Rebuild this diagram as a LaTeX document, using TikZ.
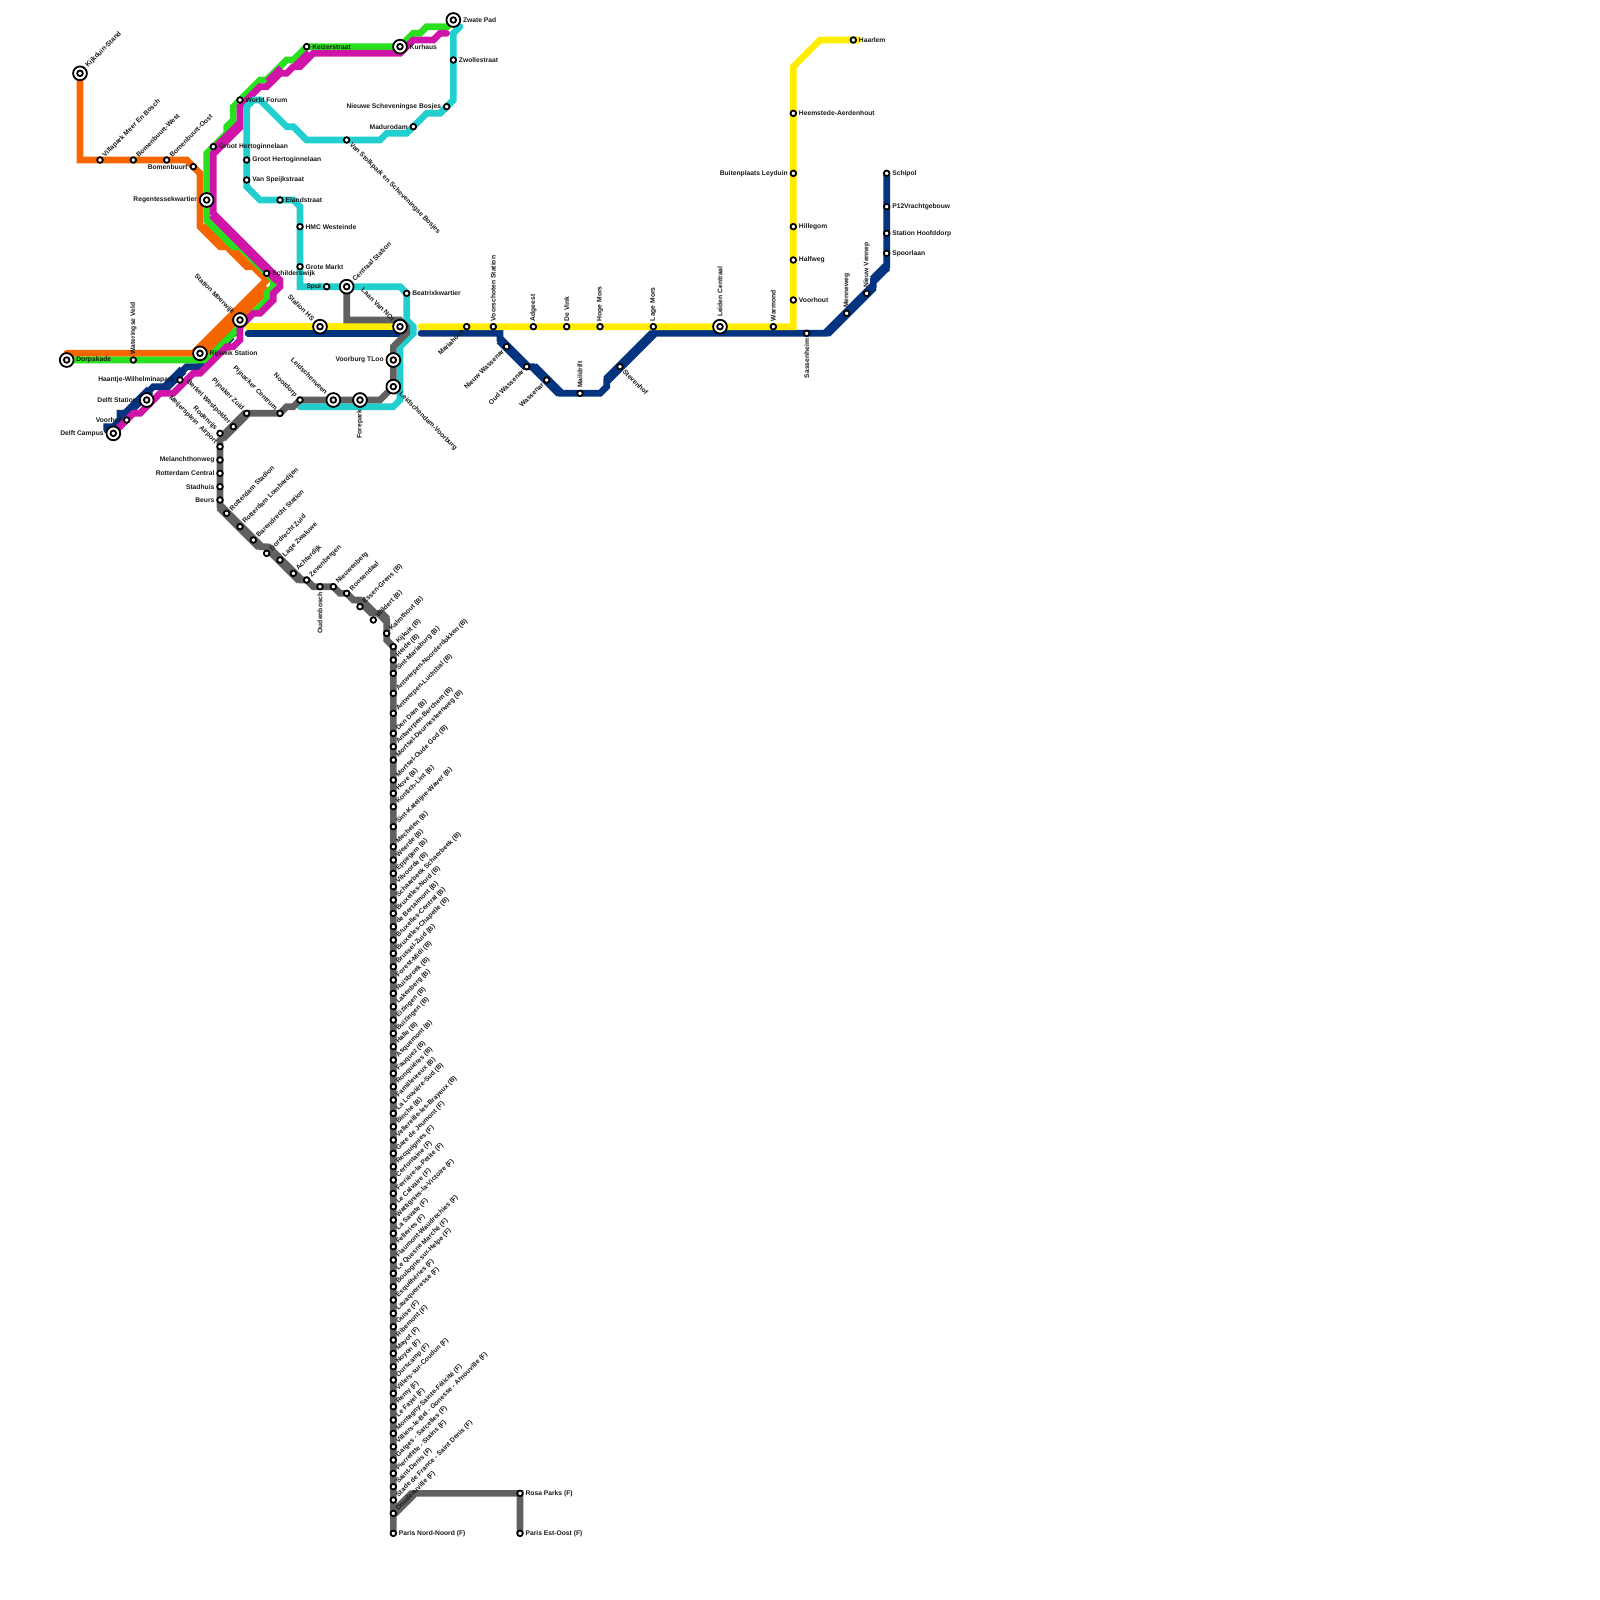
\documentclass[tikz,border=0pt]{standalone}
\usepackage{fontspec}
\setmainfont{Liberation Sans}
\definecolor{orangeL}{HTML}{F56600}
\definecolor{greenL}{HTML}{28E01E}
\definecolor{magentaL}{HTML}{D014A8}
\definecolor{tealL}{HTML}{22CFCF}
\definecolor{navyL}{HTML}{04337F}
\definecolor{yellowL}{HTML}{FFEC00}
\definecolor{greyL}{HTML}{606060}
\tikzset{
  metro/.style={line width=6.67pt,line join=miter,miter limit=3,line cap=round},
  dg/.style={line width=9.4pt,line cap=butt},
  st/.style={circle,draw=black,fill=white,line width=1.8pt,minimum size=5.6pt,inner sep=0pt},
  ist/.style={circle,draw=black,fill=white,line width=1.8pt,minimum size=13.8pt,inner sep=0pt},
  lab/.style={inner sep=0pt,font=\fontsize{6.72pt}{7pt}\selectfont\bfseries,text=black!90},
  lp/.style={lab,rotate=#1,anchor=west,xshift=5.4pt},
  ln/.style={lab,rotate=#1,anchor=east,xshift=-5.4pt},
  lP/.style={lab,rotate=#1,anchor=west,xshift=9.5pt},
  lN/.style={lab,rotate=#1,anchor=east,xshift=-9.5pt},
}
% name, x, y, label style, text
\newcommand{\stn}[5]{\node[st] (#1) at (#2,#3) {}; \node[#4] (#1-t) at (#1) {#5};}
\newcommand{\hub}[5]{\node[ist] (#1-o) at (#2,#3) {}; \node[st] (#1) at (#2,#3) {}; \node[#4] (#1-t) at (#1) {#5};}
\begin{document}
\begin{tikzpicture}[x=1pt,y=-1pt]
\useasboundingbox (0,0) rectangle (1600,1600);
% lines
\draw[metro,navyL] (106.67,430)--(106.67,426.67)--(113.33,426.67)--(120,420)--(120,413.33)--(126.67,413.33)--(153.33,386.67)--(166.67,386.67)--(186.67,366.67)--(200,366.67)--(233.33,333.33)--(235,333.33);
\draw[navyL,dg] (123,417)--(150,390) (163,390)--(183,370) (197,370)--(231,336);
\draw[metro,navyL] (248,333.33)--(405,333.33);
\draw[metro,navyL] (421,333.33)--(500,333.33)--(500,340)--(526.67,366.67)--(533.33,366.67)--(560,393.33)--(600,393.33)--(606.67,386.67)--(606.67,380)--(653.33,333.33)--(826.67,333.33)--(873.33,286.67)--(873.33,280)--(886.67,266.67)--(886.67,173.33);
\draw[navyL,dg] (500,340)--(526.67,366.67) (533.33,366.67)--(560,393.33) (606.67,380)--(653.33,333.33) (826.67,333.33)--(873.33,286.67) (873.33,280)--(886.67,266.67);
\draw[metro,yellowL] (248,326.67)--(405,326.67);
\draw[metro,yellowL] (421,326.67)--(793.33,326.67)--(793.33,66.67)--(820,40)--(858,40);
\draw[metro,orangeL] (80,73.33)--(80,160)--(186.67,160)--(200,173.33)--(200,226.67)--(220,246.67)--(226.67,246.67)--(246.67,266.67)--(253.33,266.67)--(266.67,280)--(193.33,353.33)--(66.67,353.33);
\draw[orangeL,line width=12pt,line cap=butt] (196.67,356.67)--(266.67,286.67);
\draw[orangeL,line width=9pt,line cap=butt] (202,226)--(222,246) (229,247)--(249,267);
\draw[metro,greenL] (448,26.67)--(426.67,26.67)--(420,33.33)--(413.33,33.33)--(400,46.67)--(306.67,46.67)--(293.33,60)--(286.67,60)--(266.67,80)--(260,80)--(233.33,106.67)--(233.33,120)--(226.67,126.67)--(226.67,133.33)--(206.67,153.33)--(206.67,220)--(233.33,246.67)--(240,246.67)--(273.33,280)--(273.33,286.67)--(266.67,293.33)--(266.67,300)--(206.67,360)--(66.67,360);
\draw[metro,magentaL] (446.67,33.33)--(440,33.33)--(433.33,40)--(413.33,40)--(400,53.33)--(313.33,53.33)--(300,66.67)--(293.33,66.67)--(286.67,73.33)--(280,73.33)--(266.67,86.67)--(260,86.67)--(240,106.67)--(240,126.67)--(213.33,153.33)--(213.33,213.33)--(280,280)--(280,286.67)--(273.33,293.33)--(273.33,300)--(260,313.33)--(253.33,313.33)--(240,326.67)--(240,340)--(233.33,346.67)--(226.67,346.67)--(200,373.33)--(193.33,373.33)--(173.33,393.33)--(160,393.33)--(140,413.33)--(133.33,413.33)--(113.33,433.33);
\draw[magentaL,line width=8.5pt,line cap=butt] (212,214.5)--(278.5,281);
\draw[magentaL,line width=10pt,line cap=butt] (240,125)--(213.33,151.67);
\draw[magentaL,dg] (310,53.33)--(296.67,66.67) (282,69)--(268.67,82.33);
\draw[metro,tealL] (460,26.67)--(453.33,33.33)--(453.33,100)--(440,113.33)--(426.67,113.33)--(406.67,133.33)--(386.67,133.33)--(380,140)--(306.67,140)--(293.33,126.67)--(286.67,126.67)--(260,100)--(253.33,100)--(246.67,106.67)--(246.67,186.67)--(260,200)--(293.33,200)--(300,206.67)--(300,286.67)--(400,286.67)--(406.67,293.33)--(406.67,320)--(413.33,326.67)--(413.33,333.33)--(400,346.67)--(400,400)--(393.33,406.67)--(300,406.67);
\draw[metro,greyL] (346.67,286.67)--(346.67,320)--(400,320)--(406.67,326.67)--(406.67,333.33)--(393.33,346.67)--(393.33,386.67)--(380,400)--(300,400)--(293.33,406.67)--(286.67,406.67)--(280,413.33)--(246.67,413.33)--(220,440)--(220,506.67)--(260,546.67)--(266.67,546.67)--(300,580)--(306.67,580)--(313.33,586.67)--(333.33,586.67)--(340,593.33)--(346.67,593.33)--(353.33,600)--(360,600)--(373.33,613.33)--(380,613.33)--(386.67,620)--(386.67,640)--(393.33,646.67)--(393.33,1533.33);
\draw[greyL,dg] (246.67,413.33)--(222,438) (220,506.67)--(260,546.67) (266.67,546.67)--(300,580) (360,600)--(373.33,613.33) (380,613.33)--(386.67,620) (393.33,1513.33)--(413.33,1493.33);
\draw[metro,greyL] (393.33,1513.33)--(413.33,1493.33)--(520,1493.33)--(520,1533.33);
% orange / green
\hub{kijk}{80}{73.33}{lP=45}{Kijkduin-Stand}
\stn{villa}{100}{160}{lp=45}{Villapark Meer En Bosch}
\stn{bbw}{133.33}{160}{lp=45}{Bomenbuurt-West}
\stn{bbo}{166.67}{160}{lp=45}{Bomenbuurt-Oost}
\stn{bb}{193.33}{166.67}{ln=0}{Bomenbuurt}
\hub{regent}{206.67}{200}{lN=0}{Regentessekwartier}
\stn{gh}{213.33}{146.67}{lp=0}{Groot Hertoginnelaan}
\stn{wf}{240}{100}{lp=0}{World Forum}
\stn{keiz}{306.67}{46.67}{lp=0}{Keizerstraat}
\hub{kur}{400}{46.67}{lP=0}{Kurhaus}
\hub{zwate}{453.33}{20}{lP=0}{Zwate Pad}
\stn{zwol}{453.33}{60}{lp=0}{Zwollestraat}
\stn{nsb}{446.67}{106.67}{ln=0}{Nieuwe Scheveningse Bosjes}
\stn{madu}{413.33}{126.67}{ln=0}{Madurodam}
\stn{stolk}{346.67}{140}{lp=-45}{Van Stolkpark en Scheveningse Bosjes}
\stn{gh2}{246.67}{160}{lp=0}{Groot Hertoginnelaan}
\stn{vsp}{246.67}{180}{lp=0}{Van Speijkstraat}
\stn{eland}{280}{200}{lp=0}{Elandstraat}
\stn{hmc}{300}{226.67}{lp=0}{HMC Westeinde}
\stn{grote}{300}{266.67}{lp=0}{Grote Markt}
\stn{schil}{266.67}{273.33}{lp=0}{Schilderswijk}
\stn{spui}{326.67}{286.67}{ln=0}{Spui}
\hub{cs}{346.67}{286.67}{lP=45}{Centraal Station}
\stn{beat}{406.67}{293.33}{lp=0}{Beatrixkwartier}
\hub{moer}{240}{320}{lN=-45}{Station Moerwijk}
\hub{hs}{320}{326.67}{lN=-45}{Station HS}
\hub{noi}{400}{326.67}{lN=-45}{Laan Van NOI}
\hub{rijs}{200}{353.33}{lP=0}{Rijswik Station}
\hub{dorp}{66.67}{360}{lP=0}{Dorpskade}
\stn{water}{133.33}{360}{lp=90}{Wateringse Veld}
\stn{haan}{180}{380}{ln=0}{Haantje-Wilhelminapark}
\hub{delft}{146.67}{400}{lN=0}{Delft Station}
\stn{voor}{126.67}{420}{ln=0}{Voorhof}
\hub{campus}{113.33}{433.33}{lN=0}{Delft Campus}
\hub{tloo}{393.33}{360}{lN=0}{Voorburg TLoo}
\hub{leids}{393.33}{386.67}{lP=-45}{Leidschendam-Voorburg}
\hub{fore}{360}{400}{lN=90}{Forepark}
\hub{lsv}{333.33}{400}{lN=-45}{Leidschenveen}
\stn{noot}{300}{400}{ln=-45}{Nootdorp}
\stn{pcen}{280}{413.33}{ln=-45}{Pijnacker Centrum}
\stn{pzui}{246.67}{413.33}{ln=-45}{Pijnaker Zuid}
\stn{berk}{233.33}{426.67}{ln=-45}{Berkel Westpolder}
\stn{rode}{220}{433.33}{ln=-45}{Rodenrijs}
\stn{meij}{220}{446.67}{ln=-45}{Meijersplein\ \ Airport}
\stn{mela}{220}{460}{ln=0}{Melanchthonweg}
\stn{rcen}{220}{473.33}{ln=0}{Rotterdam Central}
\stn{stad}{220}{486.67}{ln=0}{Stadhuis}
\stn{beurs}{220}{500}{ln=0}{Beurs}
\stn{rsta}{226.67}{513.33}{lp=45}{Rotterdam Stadion}
\stn{rlom}{240}{526.67}{lp=45}{Rotterdam Lombardijen}
\stn{bare}{253.33}{540}{lp=45}{Barendrecht Station}
\stn{dord}{266.67}{553.33}{lp=45}{Dordrecht Zuid}
\stn{lage}{280}{560}{lp=45}{Lage Zwaluwe}
\stn{acht}{293.33}{573.33}{lp=45}{Achterdijk}
\stn{zeve}{306.67}{580}{lp=45}{Zevenbergen}
\stn{oude}{320}{586.67}{ln=90}{Oudenbosch}
\stn{nieu}{333.33}{586.67}{lp=45}{Nieuwenberg}
\stn{roos}{346.67}{593.33}{lp=45}{Roosendaal}
\stn{esse}{360}{606.67}{lp=45}{Essen-Grens (B)}
\stn{wild}{373.33}{620}{lp=45}{Wildert (B)}
\stn{kalm}{386.67}{633.33}{lp=45}{Kalmthout (B)}
% long line
\foreach \yy/\tt [count=\i] in {
646.67/Kijkuit (B),660/Heide (B),673.33/Sint-Mariaburg (B),693.33/Antwerpen-Noorderdokken (B),713.33/Antwerpen-Luchtbal (B),733.33/Den Dam (B),746.67/Antwerpen-Berchem (B),760/Mortsel-Deurnesteenweg (B),780/Mortsel-Oude God (B),793.33/Hove (B),806.67/Kontich-Lint (B),826.67/Sint-Katelijne-Waver (B),846.67/Mechelen (B),860/Weerde (B),873.33/Eppegem (B),886.67/Vilvoorde (B),900/Schaarbeek Schaerbeek (B),913.33/Bruxelles-Nord (B),926.67/de Bertaimont (B),940/Bruxelles-Central (B),953.33/Bruxelles-Chapelle (B),966.67/Brussel-Zuid (B),980/Forest-Midi (B),993.33/Ruisbroek (B),1006.67/Lakenberg (B),1020/Eizingen (B),1033.33/Buizingen (B),1046.67/Halle (B),1060/Asquemont (B),1073.33/Fauquez (B),1086.67/Ronquières (B),1100/Familleureux (B),1113.33/La Louvière-Sud (B),1126.67/Binche (B),1140/Vellereille-les-Brayeux (B),1153.33/Gare de Jeumont (F),1166.67/Recquignies (F),1180/Cerfontaine (F),1193.33/Ferrière-la-Petite (F),1206.67/Le Calvaire (F),1220/Wattignies-la-Victoire (F),1233.33/La Savate (F),1246.67/Felleries (F),1260/Flaumont-Waudrechies (F),1273.33/Le Quesne Marché (F),1286.67/Boulogne-sur-Helpe (F),1300/Esquéhéries (F),1313.33/Lavaquerresse (F),1326.67/Guise (F),1340/Ribemont (F),1353.33/Mayot (F),1366.67/Noyon (F),1380/Ourscamp (F),1393.33/Villers-sur-Coudun (F),1406.67/Remy (F),1420/Le Fayel (F),1433.33/Montagny-Sainte-Félicité (F),1446.67/Villiers-le-Bel - Gonesse - Arnouville (F),1460/Garges - Sarcelles (F),1473.33/Pierrefitte - Stains (F),1486.67/Saint-Denis (F),1500/Stade de France - Saint Denis (F),1513.33/Doudeauville (F)}
{ \stn{ln\i}{393.33}{\yy}{lp=45}{\tt} }
\stn{pnn}{393.33}{1533.33}{lp=0}{Paris Nord-Noord (F)}
\stn{rosa}{520}{1493.33}{lp=0}{Rosa Parks (F)}
\stn{pest}{520}{1533.33}{lp=0}{Paris Est-Oost (F)}
% east
\stn{maria}{466.67}{326.67}{ln=45}{Mariahove}
\stn{vs}{493.33}{326.67}{lp=90}{Voorschoten Station}
\stn{adg}{533.33}{326.67}{lp=90}{Adgeest}
\stn{vink}{566.67}{326.67}{lp=90}{De Vink}
\stn{hmors}{600}{326.67}{lp=90}{Hoge Mors}
\stn{lmors}{653.33}{326.67}{lp=90}{Lage Mors}
\hub{leiden}{720}{326.67}{lP=90}{Leiden Centraal}
\stn{warm}{773.33}{326.67}{lp=90}{Warmond}
\stn{nwas}{506.67}{346.67}{ln=45}{Nieuw Wassenar}
\stn{owas}{526.67}{366.67}{ln=45}{Oud Wassenar}
\stn{was}{546.67}{380}{ln=45}{Wassenar}
\stn{maid}{580}{393.33}{lp=90}{Maildrift}
\stn{stev}{620}{366.67}{lp=-45}{Stevenhof}
\stn{sass}{806.67}{333.33}{ln=90}{Sassenheim}
\stn{menn}{846.67}{313.33}{lp=90}{Menneweg}
\stn{nven}{866.67}{293.33}{lp=90}{Nieuw Vennep}
\stn{haar}{853.33}{40}{lp=0}{Haarlem}
\stn{heem}{793.33}{113.33}{lp=0}{Heemstede-Aerdenhout}
\stn{buit}{793.33}{173.33}{ln=0}{Buitenplaats Leyduin}
\stn{hill}{793.33}{226.67}{lp=0}{Hillegom}
\stn{half}{793.33}{260}{lp=0}{Halfweg}
\stn{vhou}{793.33}{300}{lp=0}{Voorhout}
\stn{schi}{886.67}{173.33}{lp=0}{Schipol}
\stn{p12}{886.67}{206.67}{lp=0}{P12Vrachtgebouw}
\stn{hoof}{886.67}{233.33}{lp=0}{Station Hoofddorp}
\stn{spoor}{886.67}{253.33}{lp=0}{Spoorlaan}
\end{tikzpicture}
\end{document}
